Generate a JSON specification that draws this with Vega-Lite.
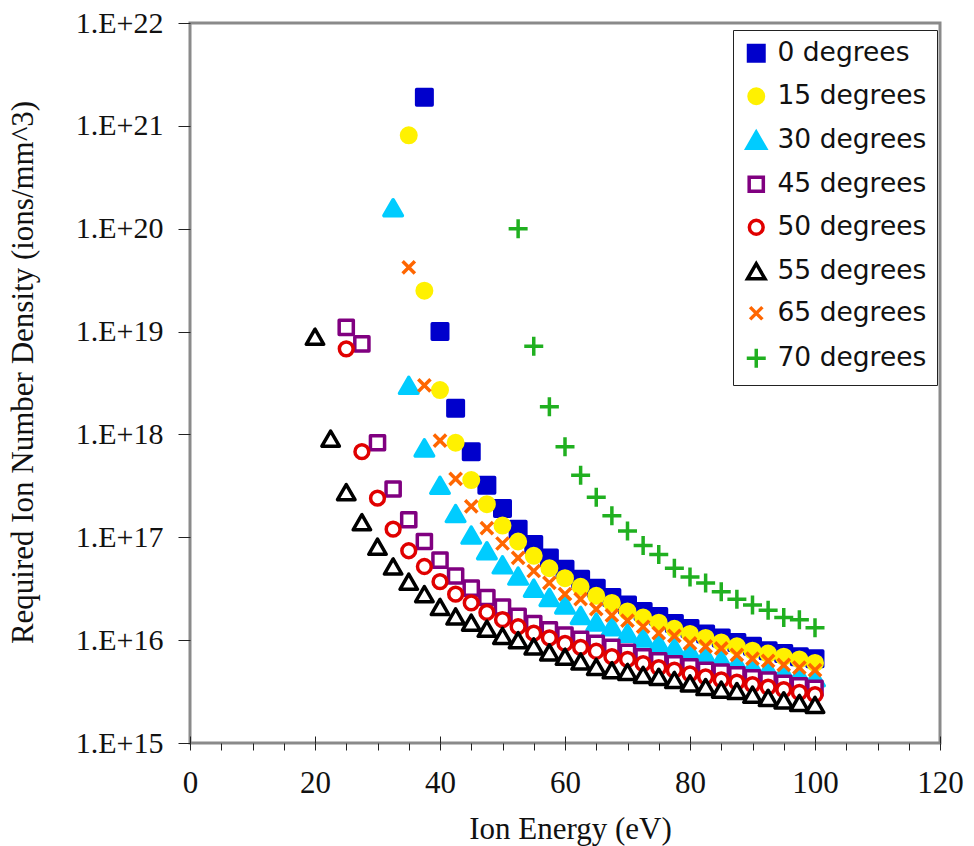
{
  "$schema": "https://vega.github.io/schema/vega-lite/v6.json",
  "width": 750,
  "height": 720,
  "autosize": {"type": "none"},
  "padding": {"left": 190, "top": 23, "right": 34, "bottom": 103},
  "background": "white",
  "config": {
    "view": {"stroke": "#8a8a8a", "strokeWidth": 3},
    "axis": {"grid": false, "tickColor": "#222222", "tickWidth": 1, "domain": false},
    "legend": {
      "labelFont": "DejaVu Sans",
      "labelFontSize": 26.5,
      "labelColor": "#111111",
      "labelOffset": 8,
      "rowPadding": 14,
      "padding": 10,
      "strokeColor": "#222222",
      "strokeWidth": 1,
      "fillColor": "white",
      "symbolStrokeWidth": 3.5
    }
  },
  "data": {
    "values": [
      {"angle": "0 degrees", "energy": 37.5, "density": 1.9e21},
      {"angle": "0 degrees", "energy": 40, "density": 1.0e19},
      {"angle": "0 degrees", "energy": 42.5, "density": 1.8e18},
      {"angle": "0 degrees", "energy": 45, "density": 6.8e17},
      {"angle": "0 degrees", "energy": 47.5, "density": 3.2e17},
      {"angle": "0 degrees", "energy": 50, "density": 1.9e17},
      {"angle": "0 degrees", "energy": 52.5, "density": 1.2e17},
      {"angle": "0 degrees", "energy": 55, "density": 8.5e16},
      {"angle": "0 degrees", "energy": 57.5, "density": 6.3e16},
      {"angle": "0 degrees", "energy": 60, "density": 4.9e16},
      {"angle": "0 degrees", "energy": 62.5, "density": 3.9e16},
      {"angle": "0 degrees", "energy": 65, "density": 3.2e16},
      {"angle": "0 degrees", "energy": 67.5, "density": 2.6e16},
      {"angle": "0 degrees", "energy": 70, "density": 2.2e16},
      {"angle": "0 degrees", "energy": 72.5, "density": 1.9e16},
      {"angle": "0 degrees", "energy": 75, "density": 1.7e16},
      {"angle": "0 degrees", "energy": 77.5, "density": 1.45e16},
      {"angle": "0 degrees", "energy": 80, "density": 1.3e16},
      {"angle": "0 degrees", "energy": 82.5, "density": 1.15e16},
      {"angle": "0 degrees", "energy": 85, "density": 1.05e16},
      {"angle": "0 degrees", "energy": 87.5, "density": 9.5e15},
      {"angle": "0 degrees", "energy": 90, "density": 8.7e15},
      {"angle": "0 degrees", "energy": 92.5, "density": 7.9e15},
      {"angle": "0 degrees", "energy": 95, "density": 7.4e15},
      {"angle": "0 degrees", "energy": 97.5, "density": 6.9e15},
      {"angle": "0 degrees", "energy": 100, "density": 6.6e15},

      {"angle": "15 degrees", "energy": 35, "density": 8.1e20},
      {"angle": "15 degrees", "energy": 37.5, "density": 2.5e19},
      {"angle": "15 degrees", "energy": 40, "density": 2.7e18},
      {"angle": "15 degrees", "energy": 42.5, "density": 8.3e17},
      {"angle": "15 degrees", "energy": 45, "density": 3.6e17},
      {"angle": "15 degrees", "energy": 47.5, "density": 2.1e17},
      {"angle": "15 degrees", "energy": 50, "density": 1.3e17},
      {"angle": "15 degrees", "energy": 52.5, "density": 9.1e16},
      {"angle": "15 degrees", "energy": 55, "density": 6.6e16},
      {"angle": "15 degrees", "energy": 57.5, "density": 5.0e16},
      {"angle": "15 degrees", "energy": 60, "density": 4.0e16},
      {"angle": "15 degrees", "energy": 62.5, "density": 3.3e16},
      {"angle": "15 degrees", "energy": 65, "density": 2.7e16},
      {"angle": "15 degrees", "energy": 67.5, "density": 2.3e16},
      {"angle": "15 degrees", "energy": 70, "density": 1.9e16},
      {"angle": "15 degrees", "energy": 72.5, "density": 1.66e16},
      {"angle": "15 degrees", "energy": 75, "density": 1.48e16},
      {"angle": "15 degrees", "energy": 77.5, "density": 1.29e16},
      {"angle": "15 degrees", "energy": 80, "density": 1.15e16},
      {"angle": "15 degrees", "energy": 82.5, "density": 1.05e16},
      {"angle": "15 degrees", "energy": 85, "density": 9.5e15},
      {"angle": "15 degrees", "energy": 87.5, "density": 8.7e15},
      {"angle": "15 degrees", "energy": 90, "density": 7.9e15},
      {"angle": "15 degrees", "energy": 92.5, "density": 7.4e15},
      {"angle": "15 degrees", "energy": 95, "density": 6.9e15},
      {"angle": "15 degrees", "energy": 97.5, "density": 6.5e15},
      {"angle": "15 degrees", "energy": 100, "density": 6.0e15},

      {"angle": "30 degrees", "energy": 32.5, "density": 1.6e20},
      {"angle": "30 degrees", "energy": 35, "density": 3.0e18},
      {"angle": "30 degrees", "energy": 37.5, "density": 7.4e17},
      {"angle": "30 degrees", "energy": 40, "density": 3.2e17},
      {"angle": "30 degrees", "energy": 42.5, "density": 1.7e17},
      {"angle": "30 degrees", "energy": 45, "density": 1.05e17},
      {"angle": "30 degrees", "energy": 47.5, "density": 7.4e16},
      {"angle": "30 degrees", "energy": 50, "density": 5.4e16},
      {"angle": "30 degrees", "energy": 52.5, "density": 4.2e16},
      {"angle": "30 degrees", "energy": 55, "density": 3.2e16},
      {"angle": "30 degrees", "energy": 57.5, "density": 2.6e16},
      {"angle": "30 degrees", "energy": 60, "density": 2.2e16},
      {"angle": "30 degrees", "energy": 62.5, "density": 1.74e16},
      {"angle": "30 degrees", "energy": 65, "density": 1.5e16},
      {"angle": "30 degrees", "energy": 67.5, "density": 1.35e16},
      {"angle": "30 degrees", "energy": 70, "density": 1.17e16},
      {"angle": "30 degrees", "energy": 72.5, "density": 1.05e16},
      {"angle": "30 degrees", "energy": 75, "density": 9.3e15},
      {"angle": "30 degrees", "energy": 77.5, "density": 8.5e15},
      {"angle": "30 degrees", "energy": 80, "density": 7.8e15},
      {"angle": "30 degrees", "energy": 82.5, "density": 7.1e15},
      {"angle": "30 degrees", "energy": 85, "density": 6.5e15},
      {"angle": "30 degrees", "energy": 87.5, "density": 6.0e15},
      {"angle": "30 degrees", "energy": 90, "density": 5.6e15},
      {"angle": "30 degrees", "energy": 92.5, "density": 5.2e15},
      {"angle": "30 degrees", "energy": 95, "density": 4.9e15},
      {"angle": "30 degrees", "energy": 97.5, "density": 4.6e15},
      {"angle": "30 degrees", "energy": 100, "density": 4.3e15},

      {"angle": "45 degrees", "energy": 25, "density": 1.1e19},
      {"angle": "45 degrees", "energy": 27.5, "density": 7.6e18},
      {"angle": "45 degrees", "energy": 30, "density": 8.3e17},
      {"angle": "45 degrees", "energy": 32.5, "density": 2.95e17},
      {"angle": "45 degrees", "energy": 35, "density": 1.48e17},
      {"angle": "45 degrees", "energy": 37.5, "density": 9.1e16},
      {"angle": "45 degrees", "energy": 40, "density": 6.0e16},
      {"angle": "45 degrees", "energy": 42.5, "density": 4.2e16},
      {"angle": "45 degrees", "energy": 45, "density": 3.2e16},
      {"angle": "45 degrees", "energy": 47.5, "density": 2.6e16},
      {"angle": "45 degrees", "energy": 50, "density": 2.1e16},
      {"angle": "45 degrees", "energy": 52.5, "density": 1.7e16},
      {"angle": "45 degrees", "energy": 55, "density": 1.45e16},
      {"angle": "45 degrees", "energy": 57.5, "density": 1.26e16},
      {"angle": "45 degrees", "energy": 60, "density": 1.12e16},
      {"angle": "45 degrees", "energy": 62.5, "density": 1.02e16},
      {"angle": "45 degrees", "energy": 65, "density": 9.3e15},
      {"angle": "45 degrees", "energy": 67.5, "density": 8.5e15},
      {"angle": "45 degrees", "energy": 70, "density": 7.6e15},
      {"angle": "45 degrees", "energy": 72.5, "density": 6.9e15},
      {"angle": "45 degrees", "energy": 75, "density": 6.3e15},
      {"angle": "45 degrees", "energy": 77.5, "density": 5.9e15},
      {"angle": "45 degrees", "energy": 80, "density": 5.5e15},
      {"angle": "45 degrees", "energy": 82.5, "density": 5.1e15},
      {"angle": "45 degrees", "energy": 85, "density": 4.9e15},
      {"angle": "45 degrees", "energy": 87.5, "density": 4.6e15},
      {"angle": "45 degrees", "energy": 90, "density": 4.3e15},
      {"angle": "45 degrees", "energy": 92.5, "density": 4.1e15},
      {"angle": "45 degrees", "energy": 95, "density": 3.8e15},
      {"angle": "45 degrees", "energy": 97.5, "density": 3.6e15},
      {"angle": "45 degrees", "energy": 100, "density": 3.4e15},

      {"angle": "50 degrees", "energy": 25, "density": 6.8e18},
      {"angle": "50 degrees", "energy": 27.5, "density": 6.8e17},
      {"angle": "50 degrees", "energy": 30, "density": 2.4e17},
      {"angle": "50 degrees", "energy": 32.5, "density": 1.2e17},
      {"angle": "50 degrees", "energy": 35, "density": 7.4e16},
      {"angle": "50 degrees", "energy": 37.5, "density": 5.2e16},
      {"angle": "50 degrees", "energy": 40, "density": 3.7e16},
      {"angle": "50 degrees", "energy": 42.5, "density": 2.8e16},
      {"angle": "50 degrees", "energy": 45, "density": 2.3e16},
      {"angle": "50 degrees", "energy": 47.5, "density": 1.86e16},
      {"angle": "50 degrees", "energy": 50, "density": 1.58e16},
      {"angle": "50 degrees", "energy": 52.5, "density": 1.35e16},
      {"angle": "50 degrees", "energy": 55, "density": 1.17e16},
      {"angle": "50 degrees", "energy": 57.5, "density": 1.05e16},
      {"angle": "50 degrees", "energy": 60, "density": 9.3e15},
      {"angle": "50 degrees", "energy": 62.5, "density": 8.5e15},
      {"angle": "50 degrees", "energy": 65, "density": 7.8e15},
      {"angle": "50 degrees", "energy": 67.5, "density": 6.9e15},
      {"angle": "50 degrees", "energy": 70, "density": 6.5e15},
      {"angle": "50 degrees", "energy": 72.5, "density": 5.9e15},
      {"angle": "50 degrees", "energy": 75, "density": 5.4e15},
      {"angle": "50 degrees", "energy": 77.5, "density": 5.1e15},
      {"angle": "50 degrees", "energy": 80, "density": 4.7e15},
      {"angle": "50 degrees", "energy": 82.5, "density": 4.4e15},
      {"angle": "50 degrees", "energy": 85, "density": 4.1e15},
      {"angle": "50 degrees", "energy": 87.5, "density": 3.9e15},
      {"angle": "50 degrees", "energy": 90, "density": 3.7e15},
      {"angle": "50 degrees", "energy": 92.5, "density": 3.5e15},
      {"angle": "50 degrees", "energy": 95, "density": 3.3e15},
      {"angle": "50 degrees", "energy": 97.5, "density": 3.1e15},
      {"angle": "50 degrees", "energy": 100, "density": 2.95e15},

      {"angle": "55 degrees", "energy": 20, "density": 8.9e18},
      {"angle": "55 degrees", "energy": 22.5, "density": 9.1e17},
      {"angle": "55 degrees", "energy": 25, "density": 2.75e17},
      {"angle": "55 degrees", "energy": 27.5, "density": 1.4e17},
      {"angle": "55 degrees", "energy": 30, "density": 8.1e16},
      {"angle": "55 degrees", "energy": 32.5, "density": 5.2e16},
      {"angle": "55 degrees", "energy": 35, "density": 3.7e16},
      {"angle": "55 degrees", "energy": 37.5, "density": 2.8e16},
      {"angle": "55 degrees", "energy": 40, "density": 2.1e16},
      {"angle": "55 degrees", "energy": 42.5, "density": 1.7e16},
      {"angle": "55 degrees", "energy": 45, "density": 1.48e16},
      {"angle": "55 degrees", "energy": 47.5, "density": 1.29e16},
      {"angle": "55 degrees", "energy": 50, "density": 1.1e16},
      {"angle": "55 degrees", "energy": 52.5, "density": 1.0e16},
      {"angle": "55 degrees", "energy": 55, "density": 8.7e15},
      {"angle": "55 degrees", "energy": 57.5, "density": 7.6e15},
      {"angle": "55 degrees", "energy": 60, "density": 6.9e15},
      {"angle": "55 degrees", "energy": 62.5, "density": 6.2e15},
      {"angle": "55 degrees", "energy": 65, "density": 5.5e15},
      {"angle": "55 degrees", "energy": 67.5, "density": 5.1e15},
      {"angle": "55 degrees", "energy": 70, "density": 4.9e15},
      {"angle": "55 degrees", "energy": 72.5, "density": 4.6e15},
      {"angle": "55 degrees", "energy": 75, "density": 4.4e15},
      {"angle": "55 degrees", "energy": 77.5, "density": 4.1e15},
      {"angle": "55 degrees", "energy": 80, "density": 3.8e15},
      {"angle": "55 degrees", "energy": 82.5, "density": 3.5e15},
      {"angle": "55 degrees", "energy": 85, "density": 3.3e15},
      {"angle": "55 degrees", "energy": 87.5, "density": 3.2e15},
      {"angle": "55 degrees", "energy": 90, "density": 2.95e15},
      {"angle": "55 degrees", "energy": 92.5, "density": 2.75e15},
      {"angle": "55 degrees", "energy": 95, "density": 2.6e15},
      {"angle": "55 degrees", "energy": 97.5, "density": 2.45e15},
      {"angle": "55 degrees", "energy": 100, "density": 2.35e15},

      {"angle": "65 degrees", "energy": 35, "density": 4.2e19},
      {"angle": "65 degrees", "energy": 37.5, "density": 3.0e18},
      {"angle": "65 degrees", "energy": 40, "density": 8.7e17},
      {"angle": "65 degrees", "energy": 42.5, "density": 3.7e17},
      {"angle": "65 degrees", "energy": 45, "density": 2.0e17},
      {"angle": "65 degrees", "energy": 47.5, "density": 1.23e17},
      {"angle": "65 degrees", "energy": 50, "density": 8.7e16},
      {"angle": "65 degrees", "energy": 52.5, "density": 6.3e16},
      {"angle": "65 degrees", "energy": 55, "density": 4.7e16},
      {"angle": "65 degrees", "energy": 57.5, "density": 3.6e16},
      {"angle": "65 degrees", "energy": 60, "density": 2.8e16},
      {"angle": "65 degrees", "energy": 62.5, "density": 2.5e16},
      {"angle": "65 degrees", "energy": 65, "density": 2.0e16},
      {"angle": "65 degrees", "energy": 67.5, "density": 1.74e16},
      {"angle": "65 degrees", "energy": 70, "density": 1.55e16},
      {"angle": "65 degrees", "energy": 72.5, "density": 1.35e16},
      {"angle": "65 degrees", "energy": 75, "density": 1.17e16},
      {"angle": "65 degrees", "energy": 77.5, "density": 1.1e16},
      {"angle": "65 degrees", "energy": 80, "density": 9.3e15},
      {"angle": "65 degrees", "energy": 82.5, "density": 8.7e15},
      {"angle": "65 degrees", "energy": 85, "density": 8.3e15},
      {"angle": "65 degrees", "energy": 87.5, "density": 7.2e15},
      {"angle": "65 degrees", "energy": 90, "density": 6.6e15},
      {"angle": "65 degrees", "energy": 92.5, "density": 6.3e15},
      {"angle": "65 degrees", "energy": 95, "density": 5.75e15},
      {"angle": "65 degrees", "energy": 97.5, "density": 5.4e15},
      {"angle": "65 degrees", "energy": 100, "density": 5.1e15},

      {"angle": "70 degrees", "energy": 52.5, "density": 1.0e20},
      {"angle": "70 degrees", "energy": 55, "density": 7.2e18},
      {"angle": "70 degrees", "energy": 57.5, "density": 1.86e18},
      {"angle": "70 degrees", "energy": 60, "density": 7.6e17},
      {"angle": "70 degrees", "energy": 62.5, "density": 4.0e17},
      {"angle": "70 degrees", "energy": 65, "density": 2.45e17},
      {"angle": "70 degrees", "energy": 67.5, "density": 1.62e17},
      {"angle": "70 degrees", "energy": 70, "density": 1.15e17},
      {"angle": "70 degrees", "energy": 72.5, "density": 8.3e16},
      {"angle": "70 degrees", "energy": 75, "density": 6.8e16},
      {"angle": "70 degrees", "energy": 77.5, "density": 5.0e16},
      {"angle": "70 degrees", "energy": 80, "density": 4.1e16},
      {"angle": "70 degrees", "energy": 82.5, "density": 3.6e16},
      {"angle": "70 degrees", "energy": 85, "density": 2.95e16},
      {"angle": "70 degrees", "energy": 87.5, "density": 2.5e16},
      {"angle": "70 degrees", "energy": 90, "density": 2.2e16},
      {"angle": "70 degrees", "energy": 92.5, "density": 1.95e16},
      {"angle": "70 degrees", "energy": 95, "density": 1.66e16},
      {"angle": "70 degrees", "energy": 97.5, "density": 1.58e16},
      {"angle": "70 degrees", "energy": 100, "density": 1.32e16}
    ]
  },
  "layer": [
    {
      "mark": {"type": "point", "filled": false, "strokeWidth": 3.5, "strokeJoin": "round", "opacity": 1},
      "encoding": {
        "x": {
          "field": "energy",
          "type": "quantitative",
          "scale": {"domain": [0, 120], "nice": false, "zero": false},
          "axis": {
            "orient": "bottom",
            "title": "Ion Energy (eV)",
            "titleFont": "Liberation Serif",
            "titleFontSize": 31,
            "titleFontWeight": "normal",
            "titleColor": "#111111",
            "titleX": 380,
            "titleY": 95,
            "titleBaseline": "alphabetic",
            "values": [0, 5, 10, 15, 20, 25, 30, 35, 40, 45, 50, 55, 60, 65, 70, 75, 80, 85, 90, 95, 100, 105, 110, 115, 120],
            "labelExpr": "datum.value % 20 == 0 ? datum.label : ''",
            "tickSize": 7,
            "labelPadding": 18,
            "labelFont": "Liberation Sans Narrow",
            "labelFontSize": 31,
            "labelColor": "#111111",
            "labelOverlap": false,
            "labelFlush": false,
            "labelBound": false
          }
        },
        "y": {
          "field": "density",
          "type": "quantitative",
          "scale": {"type": "log", "domain": [1e15, 1e22], "nice": false},
          "axis": {
            "title": "Required Ion Number Density (ions/mm^3)",
            "titleFont": "Liberation Serif",
            "titleFontSize": 31,
            "titleFontWeight": "normal",
            "titleColor": "#111111",
            "titleX": -167,
            "titleY": 349,
            "titleAngle": -90,
            "titleAlign": "center",
            "titleBaseline": "middle",
            "values": [1e15, 1e16, 1e17, 1e18, 1e19, 1e20, 1e21, 1e22],
            "labelExpr": "'1.E+' + format(log(datum.value) / LN10, '.0f')",
            "tickSize": 12,
            "labelPadding": 15,
            "labelFont": "Liberation Serif",
            "labelFontSize": 30,
            "labelColor": "#111111",
            "labelBaseline": "middle",
            "labelOverlap": false,
            "labelFlush": false,
            "labelBound": false
          }
        },
        "shape": {
          "field": "angle",
          "type": "nominal",
          "scale": {
            "domain": ["0 degrees", "15 degrees", "30 degrees", "45 degrees", "50 degrees", "55 degrees", "65 degrees", "70 degrees"],
            "range": ["square", "circle", "triangle-up", "square", "circle", "triangle-up", "M-1,-1L1,1M-1,1L1,-1", "M-1,0L1,0M0,-1L0,1"]
          },
          "legend": {"title": null, "orient": "none", "legendX": 543, "legendY": 7, "symbolStrokeWidth": 3.5}
        },
        "fill": {
          "field": "angle",
          "type": "nominal",
          "scale": {
            "domain": ["0 degrees", "15 degrees", "30 degrees", "45 degrees", "50 degrees", "55 degrees", "65 degrees", "70 degrees"],
            "range": ["#0000CC", "#FFF100", "#00CCFF", "#FFFFFF", "#FFFFFF", "#FFFFFF", "#FF6600", "#20B020"]
          },
          "legend": {"title": null, "orient": "none", "legendX": 543, "legendY": 7, "symbolStrokeWidth": 3.5}
        },
        "stroke": {
          "field": "angle",
          "type": "nominal",
          "scale": {
            "domain": ["0 degrees", "15 degrees", "30 degrees", "45 degrees", "50 degrees", "55 degrees", "65 degrees", "70 degrees"],
            "range": ["#0000CC", "#FFF100", "#00CCFF", "#800080", "#E00000", "#000000", "#FF6600", "#20B020"]
          },
          "legend": {"title": null, "orient": "none", "legendX": 543, "legendY": 7, "symbolStrokeWidth": 3.5}
        },
        "size": {
          "field": "angle",
          "type": "nominal",
          "scale": {
            "type": "ordinal",
            "domain": ["0 degrees", "15 degrees", "30 degrees", "45 degrees", "50 degrees", "55 degrees", "65 degrees", "70 degrees"],
            "range": [240, 210, 342, 200, 190, 306, 150, 361]
          },
          "legend": {"title": null, "orient": "none", "legendX": 543, "legendY": 7, "symbolStrokeWidth": 3.5}
        }
      }
    },
    {
      "mark": {"type": "point", "opacity": 0},
      "encoding": {
        "x": {
          "field": "energy",
          "type": "quantitative",
          "axis": {
            "orient": "bottom",
            "title": null,
            "values": [0, 20, 40, 60, 80, 100, 120],
            "tickSize": -7,
            "labels": false,
            "domain": false
          }
        },
        "y": {
          "field": "density",
          "type": "quantitative",
          "scale": {"type": "log"},
          "axis": null
        }
      }
    }
  ],
  "resolve": {"axis": {"x": "independent", "y": "independent"}}
}
